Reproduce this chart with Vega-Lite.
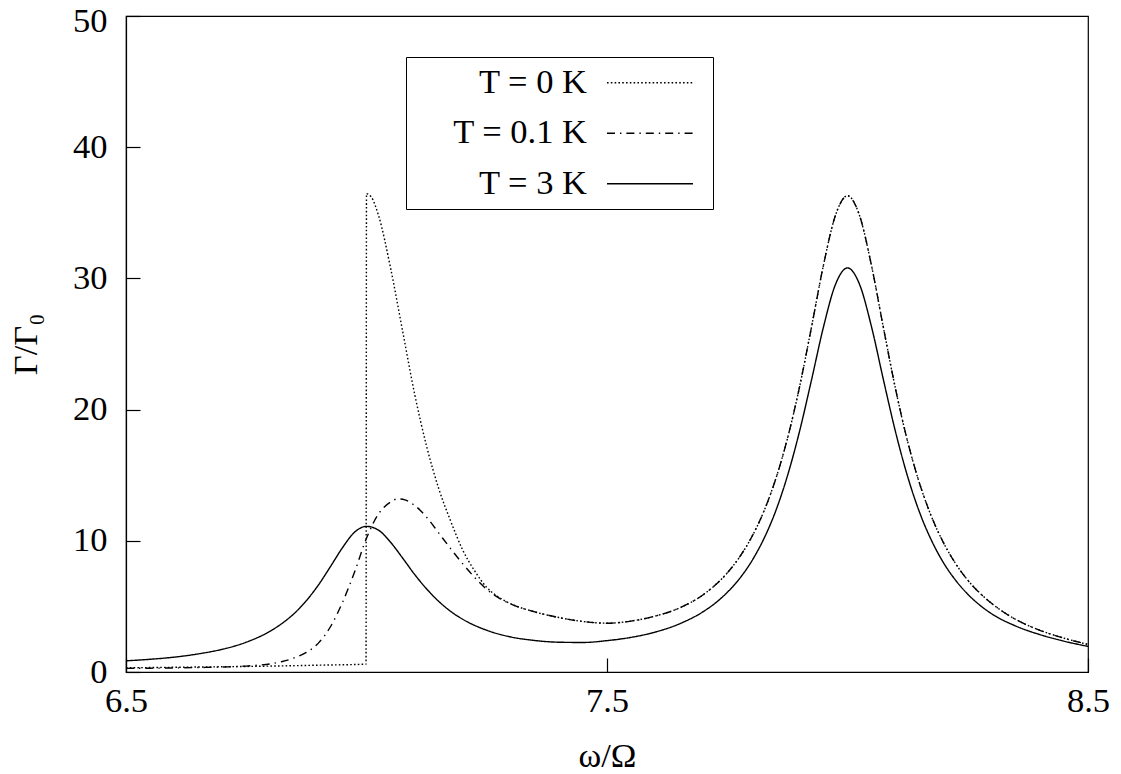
{
  "$schema": "https://vega.github.io/schema/vega-lite/v6.json",
  "width": 962,
  "height": 656,
  "autosize": "none",
  "padding": {"left": 126, "top": 16, "right": 33, "bottom": 102},
  "background": "white",
  "data": {
    "values": [
      {"T": "T = 0 K", "x": 6.5, "y": 0.32},
      {"T": "T = 0 K", "x": 6.6, "y": 0.36},
      {"T": "T = 0 K", "x": 6.7, "y": 0.4},
      {"T": "T = 0 K", "x": 6.8, "y": 0.45},
      {"T": "T = 0 K", "x": 6.9, "y": 0.52},
      {"T": "T = 0 K", "x": 6.999, "y": 0.6},
      {"T": "T = 0 K", "x": 7.0, "y": 36.45},
      {"T": "T = 0 K", "x": 7.01, "y": 36.2},
      {"T": "T = 0 K", "x": 7.025, "y": 34.8},
      {"T": "T = 0 K", "x": 7.05, "y": 30.8},
      {"T": "T = 0 K", "x": 7.075, "y": 26.0},
      {"T": "T = 0 K", "x": 7.1, "y": 21.2},
      {"T": "T = 0 K", "x": 7.125, "y": 17.2},
      {"T": "T = 0 K", "x": 7.15, "y": 14.0},
      {"T": "T = 0 K", "x": 7.175, "y": 11.5},
      {"T": "T = 0 K", "x": 7.2, "y": 9.3},
      {"T": "T = 0 K", "x": 7.225, "y": 7.7},
      {"T": "T = 0 K", "x": 7.25, "y": 6.45},
      {"T": "T = 0 K", "x": 7.275, "y": 5.7},
      {"T": "T = 0 K", "x": 7.3, "y": 5.2},
      {"T": "T = 0 K", "x": 7.35, "y": 4.58},
      {"T": "T = 0 K", "x": 7.4, "y": 4.15},
      {"T": "T = 0 K", "x": 7.45, "y": 3.85},
      {"T": "T = 0 K", "x": 7.5, "y": 3.72},
      {"T": "T = 0 K", "x": 7.55, "y": 3.88},
      {"T": "T = 0 K", "x": 7.6, "y": 4.26},
      {"T": "T = 0 K", "x": 7.65, "y": 4.87},
      {"T": "T = 0 K", "x": 7.7, "y": 5.89},
      {"T": "T = 0 K", "x": 7.725, "y": 6.63},
      {"T": "T = 0 K", "x": 7.75, "y": 7.55},
      {"T": "T = 0 K", "x": 7.775, "y": 8.73},
      {"T": "T = 0 K", "x": 7.8, "y": 10.23},
      {"T": "T = 0 K", "x": 7.825, "y": 12.15},
      {"T": "T = 0 K", "x": 7.85, "y": 14.62},
      {"T": "T = 0 K", "x": 7.875, "y": 17.77},
      {"T": "T = 0 K", "x": 7.9, "y": 21.68},
      {"T": "T = 0 K", "x": 7.925, "y": 26.26},
      {"T": "T = 0 K", "x": 7.95, "y": 31.0},
      {"T": "T = 0 K", "x": 7.975, "y": 34.81},
      {"T": "T = 0 K", "x": 8.0, "y": 36.3},
      {"T": "T = 0 K", "x": 8.025, "y": 34.79},
      {"T": "T = 0 K", "x": 8.05, "y": 30.96},
      {"T": "T = 0 K", "x": 8.075, "y": 26.18},
      {"T": "T = 0 K", "x": 8.1, "y": 21.55},
      {"T": "T = 0 K", "x": 8.125, "y": 17.57},
      {"T": "T = 0 K", "x": 8.15, "y": 14.35},
      {"T": "T = 0 K", "x": 8.175, "y": 11.81},
      {"T": "T = 0 K", "x": 8.2, "y": 9.82},
      {"T": "T = 0 K", "x": 8.225, "y": 8.25},
      {"T": "T = 0 K", "x": 8.25, "y": 7.0},
      {"T": "T = 0 K", "x": 8.275, "y": 6.02},
      {"T": "T = 0 K", "x": 8.3, "y": 5.22},
      {"T": "T = 0 K", "x": 8.35, "y": 4.0},
      {"T": "T = 0 K", "x": 8.4, "y": 3.18},
      {"T": "T = 0 K", "x": 8.45, "y": 2.58},
      {"T": "T = 0 K", "x": 8.5, "y": 2.1},

      {"T": "T = 0.1 K", "x": 6.5, "y": 0.28},
      {"T": "T = 0.1 K", "x": 6.55, "y": 0.29},
      {"T": "T = 0.1 K", "x": 6.6, "y": 0.31},
      {"T": "T = 0.1 K", "x": 6.65, "y": 0.34},
      {"T": "T = 0.1 K", "x": 6.7, "y": 0.38},
      {"T": "T = 0.1 K", "x": 6.75, "y": 0.45},
      {"T": "T = 0.1 K", "x": 6.775, "y": 0.52},
      {"T": "T = 0.1 K", "x": 6.8, "y": 0.62},
      {"T": "T = 0.1 K", "x": 6.825, "y": 0.8},
      {"T": "T = 0.1 K", "x": 6.85, "y": 1.08},
      {"T": "T = 0.1 K", "x": 6.875, "y": 1.5},
      {"T": "T = 0.1 K", "x": 6.9, "y": 2.2},
      {"T": "T = 0.1 K", "x": 6.925, "y": 3.45},
      {"T": "T = 0.1 K", "x": 6.95, "y": 5.3},
      {"T": "T = 0.1 K", "x": 6.975, "y": 7.6},
      {"T": "T = 0.1 K", "x": 7.0, "y": 10.2},
      {"T": "T = 0.1 K", "x": 7.025, "y": 12.05},
      {"T": "T = 0.1 K", "x": 7.05, "y": 12.95},
      {"T": "T = 0.1 K", "x": 7.065, "y": 13.2},
      {"T": "T = 0.1 K", "x": 7.08, "y": 13.12},
      {"T": "T = 0.1 K", "x": 7.1, "y": 12.7},
      {"T": "T = 0.1 K", "x": 7.125, "y": 11.8},
      {"T": "T = 0.1 K", "x": 7.15, "y": 10.6},
      {"T": "T = 0.1 K", "x": 7.175, "y": 9.4},
      {"T": "T = 0.1 K", "x": 7.2, "y": 8.25},
      {"T": "T = 0.1 K", "x": 7.225, "y": 7.2},
      {"T": "T = 0.1 K", "x": 7.25, "y": 6.3},
      {"T": "T = 0.1 K", "x": 7.275, "y": 5.65},
      {"T": "T = 0.1 K", "x": 7.3, "y": 5.18},
      {"T": "T = 0.1 K", "x": 7.35, "y": 4.58},
      {"T": "T = 0.1 K", "x": 7.4, "y": 4.15},
      {"T": "T = 0.1 K", "x": 7.45, "y": 3.85},
      {"T": "T = 0.1 K", "x": 7.5, "y": 3.72},
      {"T": "T = 0.1 K", "x": 7.55, "y": 3.88},
      {"T": "T = 0.1 K", "x": 7.6, "y": 4.26},
      {"T": "T = 0.1 K", "x": 7.65, "y": 4.87},
      {"T": "T = 0.1 K", "x": 7.7, "y": 5.89},
      {"T": "T = 0.1 K", "x": 7.725, "y": 6.63},
      {"T": "T = 0.1 K", "x": 7.75, "y": 7.55},
      {"T": "T = 0.1 K", "x": 7.775, "y": 8.73},
      {"T": "T = 0.1 K", "x": 7.8, "y": 10.23},
      {"T": "T = 0.1 K", "x": 7.825, "y": 12.15},
      {"T": "T = 0.1 K", "x": 7.85, "y": 14.62},
      {"T": "T = 0.1 K", "x": 7.875, "y": 17.77},
      {"T": "T = 0.1 K", "x": 7.9, "y": 21.68},
      {"T": "T = 0.1 K", "x": 7.925, "y": 26.26},
      {"T": "T = 0.1 K", "x": 7.95, "y": 31.0},
      {"T": "T = 0.1 K", "x": 7.975, "y": 34.81},
      {"T": "T = 0.1 K", "x": 8.0, "y": 36.3},
      {"T": "T = 0.1 K", "x": 8.025, "y": 34.79},
      {"T": "T = 0.1 K", "x": 8.05, "y": 30.96},
      {"T": "T = 0.1 K", "x": 8.075, "y": 26.18},
      {"T": "T = 0.1 K", "x": 8.1, "y": 21.55},
      {"T": "T = 0.1 K", "x": 8.125, "y": 17.57},
      {"T": "T = 0.1 K", "x": 8.15, "y": 14.35},
      {"T": "T = 0.1 K", "x": 8.175, "y": 11.81},
      {"T": "T = 0.1 K", "x": 8.2, "y": 9.82},
      {"T": "T = 0.1 K", "x": 8.225, "y": 8.25},
      {"T": "T = 0.1 K", "x": 8.25, "y": 7.0},
      {"T": "T = 0.1 K", "x": 8.275, "y": 6.02},
      {"T": "T = 0.1 K", "x": 8.3, "y": 5.22},
      {"T": "T = 0.1 K", "x": 8.35, "y": 4.0},
      {"T": "T = 0.1 K", "x": 8.4, "y": 3.18},
      {"T": "T = 0.1 K", "x": 8.45, "y": 2.58},
      {"T": "T = 0.1 K", "x": 8.5, "y": 2.1},

      {"T": "T = 3 K", "x": 6.5, "y": 0.85},
      {"T": "T = 3 K", "x": 6.55, "y": 0.97},
      {"T": "T = 3 K", "x": 6.6, "y": 1.13},
      {"T": "T = 3 K", "x": 6.65, "y": 1.38},
      {"T": "T = 3 K", "x": 6.7, "y": 1.73},
      {"T": "T = 3 K", "x": 6.75, "y": 2.27},
      {"T": "T = 3 K", "x": 6.8, "y": 3.12},
      {"T": "T = 3 K", "x": 6.825, "y": 3.72},
      {"T": "T = 3 K", "x": 6.85, "y": 4.47},
      {"T": "T = 3 K", "x": 6.875, "y": 5.44},
      {"T": "T = 3 K", "x": 6.9, "y": 6.63},
      {"T": "T = 3 K", "x": 6.925, "y": 8.03},
      {"T": "T = 3 K", "x": 6.95, "y": 9.47},
      {"T": "T = 3 K", "x": 6.975, "y": 10.65},
      {"T": "T = 3 K", "x": 7.0, "y": 11.1},
      {"T": "T = 3 K", "x": 7.025, "y": 10.81},
      {"T": "T = 3 K", "x": 7.05, "y": 9.89},
      {"T": "T = 3 K", "x": 7.075, "y": 8.69},
      {"T": "T = 3 K", "x": 7.1, "y": 7.44},
      {"T": "T = 3 K", "x": 7.125, "y": 6.33},
      {"T": "T = 3 K", "x": 7.15, "y": 5.39},
      {"T": "T = 3 K", "x": 7.175, "y": 4.62},
      {"T": "T = 3 K", "x": 7.2, "y": 4.02},
      {"T": "T = 3 K", "x": 7.25, "y": 3.18},
      {"T": "T = 3 K", "x": 7.3, "y": 2.67},
      {"T": "T = 3 K", "x": 7.35, "y": 2.4},
      {"T": "T = 3 K", "x": 7.4, "y": 2.27},
      {"T": "T = 3 K", "x": 7.45, "y": 2.25},
      {"T": "T = 3 K", "x": 7.5, "y": 2.39},
      {"T": "T = 3 K", "x": 7.55, "y": 2.64},
      {"T": "T = 3 K", "x": 7.6, "y": 3.04},
      {"T": "T = 3 K", "x": 7.65, "y": 3.66},
      {"T": "T = 3 K", "x": 7.7, "y": 4.6},
      {"T": "T = 3 K", "x": 7.725, "y": 5.25},
      {"T": "T = 3 K", "x": 7.75, "y": 6.07},
      {"T": "T = 3 K", "x": 7.775, "y": 7.09},
      {"T": "T = 3 K", "x": 7.8, "y": 8.4},
      {"T": "T = 3 K", "x": 7.825, "y": 10.07},
      {"T": "T = 3 K", "x": 7.85, "y": 12.2},
      {"T": "T = 3 K", "x": 7.875, "y": 14.93},
      {"T": "T = 3 K", "x": 7.9, "y": 18.3},
      {"T": "T = 3 K", "x": 7.925, "y": 22.23},
      {"T": "T = 3 K", "x": 7.95, "y": 26.29},
      {"T": "T = 3 K", "x": 7.975, "y": 29.54},
      {"T": "T = 3 K", "x": 8.0, "y": 30.8},
      {"T": "T = 3 K", "x": 8.025, "y": 29.55},
      {"T": "T = 3 K", "x": 8.05, "y": 26.3},
      {"T": "T = 3 K", "x": 8.075, "y": 22.22},
      {"T": "T = 3 K", "x": 8.1, "y": 18.28},
      {"T": "T = 3 K", "x": 8.125, "y": 14.9},
      {"T": "T = 3 K", "x": 8.15, "y": 12.15},
      {"T": "T = 3 K", "x": 8.175, "y": 10.0},
      {"T": "T = 3 K", "x": 8.2, "y": 8.3},
      {"T": "T = 3 K", "x": 8.225, "y": 6.98},
      {"T": "T = 3 K", "x": 8.25, "y": 5.93},
      {"T": "T = 3 K", "x": 8.275, "y": 5.1},
      {"T": "T = 3 K", "x": 8.3, "y": 4.43},
      {"T": "T = 3 K", "x": 8.35, "y": 3.5},
      {"T": "T = 3 K", "x": 8.4, "y": 2.85},
      {"T": "T = 3 K", "x": 8.45, "y": 2.35},
      {"T": "T = 3 K", "x": 8.5, "y": 1.95}
    ]
  },
  "mark": {"type": "line", "color": "black", "strokeWidth": 1.4, "interpolate": "monotone", "clip": true},
  "encoding": {
    "x": {
      "field": "x",
      "type": "quantitative",
      "scale": {"domain": [6.5, 8.5], "nice": false, "zero": false},
      "axis": {
        "title": "ω/Ω",
        "values": [6.5, 7.5, 8.5],
        "format": ".1f",
        "labelPadding": 26,
        "titlePadding": 22
      }
    },
    "y": {
      "field": "y",
      "type": "quantitative",
      "scale": {"domain": [0, 50], "nice": false},
      "axis": {
        "title": "Γ/Γ₀",
        "values": [0, 10, 20, 30, 40, 50],
        "format": "d",
        "labelPadding": 33,
        "labelOffset": {"condition": {"test": "datum.value === 50", "value": 5}, "value": 0},
        "titlePadding": 29
      }
    },
    "strokeDash": {
      "field": "T",
      "type": "nominal",
      "scale": {
        "domain": ["T = 0 K", "T = 0.1 K", "T = 3 K"],
        "range": [[1.6, 2.2], [8, 5, 1.4, 5], [1, 0]]
      },
      "legend": {
        "title": null,
        "symbolType": "M-17.25,0M175.25,0H261.25M269.75,0",
        "symbolSize": 4
      }
    }
  },
  "config": {
    "view": {"stroke": "black", "strokeWidth": 1.2},
    "axis": {
      "grid": false,
      "domainColor": "black",
      "domainWidth": 1.2,
      "tickColor": "black",
      "tickWidth": 1.2,
      "tickSize": -14,
      "labelFont": "Liberation Serif",
      "labelFontSize": 34.5,
      "labelColor": "black",
      "labelFlush": false,
      "labelOverlap": false,
      "titleFont": "Liberation Serif",
      "titleFontSize": 34.5,
      "titleFontWeight": "normal",
      "titleColor": "black"
    },
    "legend": {
      "orient": "none",
      "legendX": 280,
      "legendY": 41,
      "padding": 8.5,
      "strokeColor": "black",
      "fillColor": "white",
      "symbolStrokeWidth": 1.4,
      "symbolStrokeColor": "black",
      "symbolFillColor": "transparent",
      "labelFont": "Liberation Serif",
      "labelFontSize": 34.5,
      "labelColor": "black",
      "labelAlign": "right",
      "labelOffset": 138,
      "symbolOffset": 0,
      "rowPadding": 15.5,
      "labelLimit": 0
    }
  }
}
